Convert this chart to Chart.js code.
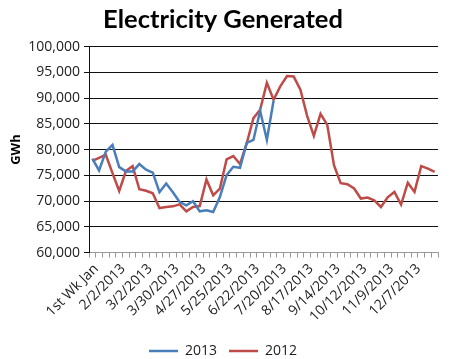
<!DOCTYPE html>
<html>
<head>
<meta charset="utf-8">
<script src="https://cdn.jsdelivr.net/npm/chart.js@4.4.0/dist/chart.umd.min.js"></script>
<style>
  html, body { margin: 0; padding: 0; background: #fff; }
  #wrap { width: 470px; height: 359px; }
</style>
</head>
<body>
<div id="wrap"><canvas id="chart" width="470" height="359"></canvas></div>
<script>
// Weekly categories (week ending dates)
const weeks = [
    '1st Wk Jan', '1/12/2013', '1/19/2013', '1/26/2013',
    '2/2/2013', '2/9/2013', '2/16/2013', '2/23/2013',
    '3/2/2013', '3/9/2013', '3/16/2013', '3/23/2013',
    '3/30/2013', '4/6/2013', '4/13/2013', '4/20/2013',
    '4/27/2013', '5/4/2013', '5/11/2013', '5/18/2013',
    '5/25/2013', '6/1/2013', '6/8/2013', '6/15/2013',
    '6/22/2013', '6/29/2013', '7/6/2013', '7/13/2013',
    '7/20/2013', '7/27/2013', '8/3/2013', '8/10/2013',
    '8/17/2013', '8/24/2013', '8/31/2013', '9/7/2013',
    '9/14/2013', '9/21/2013', '9/28/2013', '10/5/2013',
    '10/12/2013', '10/19/2013', '10/26/2013', '11/2/2013',
    '11/9/2013', '11/16/2013', '11/23/2013', '11/30/2013',
    '12/7/2013', '12/14/2013', '12/21/2013', '12/28/2013'
];

// GWh, 2013 (partial year)
const gen2013 = [
    78260, 75960, 79590, 80900, 76600, 75760, 75760, 77190,
    76110, 75530, 71720, 73420, 71720, 69820, 69180, 69960,
    68010, 68200, 67870, 70800, 75040, 76660, 76460, 81290,
    81870, 87540, 81870, 89490
];

// GWh, 2012
const gen2012 = [
    77800, 78400, 79000, 75430, 71970, 75820, 76800, 72300,
    72010, 71520, 68650, 68850, 68980, 69370, 68010, 68850,
    69040, 74200, 71130, 72440, 78100, 78750, 77190, 81230,
    86110, 87730, 92950, 89690, 92280, 94270, 94180, 91640,
    86560, 82650, 86950, 84800, 76990, 73480, 73280, 72440,
    70490, 70680, 70160, 68850, 70740, 71780, 69320, 73570,
    71780, 76800, 76310, 75680
];

const yMin = 60000;
const yMax = 100000;
const yStep = 5000;

const ctx = document.getElementById('chart').getContext('2d');
new Chart(ctx, {
    type: 'line',
    data: {
        labels: weeks,
        datasets: [{
            label: '2013',
            data: gen2013,
            borderColor: '#4a7ebb',
            backgroundColor: '#4a7ebb',
            borderWidth: 2.5,
            pointRadius: 0,
            tension: 0
        }, {
            label: '2012',
            data: gen2012,
            borderColor: '#be4b48',
            backgroundColor: '#be4b48',
            borderWidth: 2.5,
            pointRadius: 0,
            tension: 0
        }]
    },
    options: {
        responsive: false,
        animation: false,
        layout: { padding: { left: 8, right: 32, top: 0, bottom: -9 } },
        plugins: {
            title: {
                display: true,
                text: 'Electricity Generated',
                color: '#000',
                font: { family: 'Lato', size: 25.5, weight: 'bold' },
                padding: { top: 4, bottom: 12 }
            },
            legend: {
                position: 'bottom',
                labels: {
                    usePointStyle: true,
                    pointStyle: 'line',
                    pointStyleWidth: 29,
                    color: '#222',
                    font: { family: 'Open Sans', size: 14 },
                    padding: 12
                }
            },
            tooltip: { enabled: false }
        },
        scales: {
            x: {
                offset: true,
                afterFit: function (scale) { scale.height += 4; },
                grid: {
                    offset: true,
                    drawOnChartArea: false,
                    tickLength: 5,
                    color: '#999'
                },
                border: { color: '#999' },
                ticks: {
                    autoSkip: false,
                    minRotation: 45,
                    maxRotation: 45,
                    padding: 3,
                    labelOffset: 4,
                    color: '#222',
                    font: { family: 'Open Sans', size: 14 },
                    callback: function (value, index) {
                        return index % 4 === 0 ? weeks[index] : '';
                    }
                }
            },
            y: {
                min: yMin,
                max: yMax,
                afterFit: function (scale) { scale.width = 81; },
                ticks: {
                    stepSize: yStep,
                    color: '#222',
                    font: { family: 'Open Sans', size: 14 },
                    padding: 4,
                    callback: v => v.toLocaleString('en-US')
                },
                grid: {
                    color: '#111',
                    tickLength: 5
                },
                border: { color: '#111' },
                title: {
                    display: true,
                    text: 'GWh',
                    color: '#000',
                    font: { family: 'Open Sans', size: 13, weight: 'bold' },
                    padding: { top: 0, bottom: 4 }
                }
            }
        }
    }
});
</script>
</body>
</html>
